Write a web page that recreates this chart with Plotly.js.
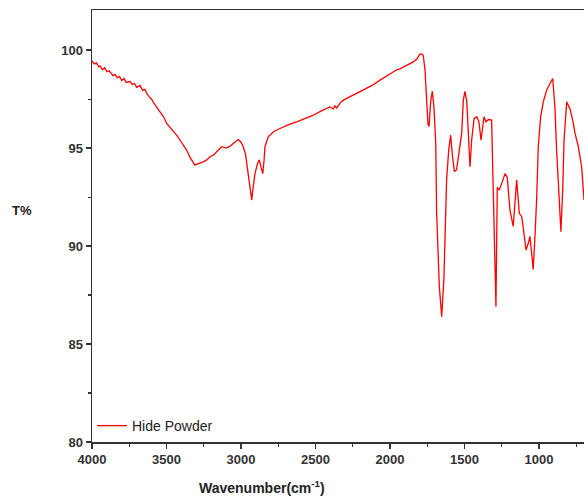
<!DOCTYPE html>
<html>
<head>
<meta charset="utf-8">
<script src="https://cdn.plot.ly/plotly-3.0.1.min.js"></script>
<style>html,body{margin:0;padding:0;background:#fff;}#chart{width:584px;height:501px;}</style>
</head>
<body>
<div id="chart"></div>
<script>
var seriesName = "Hide Powder";
var wavenumber = [4000,3985,3970,3955,3946,3930,3915,3900,3885,3870,3859,3845,3830,3815,3800,3785,3770,3745,3730,3715,3700,3678,3660,3645,3633,3615,3600,3585,3566,3545,3520,3499,3470,3432,3400,3365,3340,3309,3290,3270,3253,3230,3210,3186,3160,3130,3100,3074,3050,3030,3018,3000,2985,2970,2962,2945,2935,2928,2920,2906,2890,2877,2865,2854,2845,2839,2817,2780,2738,2680,2626,2570,2515,2460,2403,2380,2370,2358,2345,2330,2313,2250,2179,2120,2067,2010,1955,1933,1880,1844,1820,1799,1785,1777,1765,1754,1745,1738,1727,1716,1705,1693,1687,1669,1653,1638,1626,1620,1606,1593,1582,1568,1553,1535,1519,1508,1497,1485,1474,1463,1452,1436,1418,1403,1389,1378,1369,1356,1340,1318,1311,1300,1289,1280,1267,1250,1228,1213,1195,1173,1161,1150,1132,1116,1101,1087,1072,1061,1045,1039,1027,1016,1005,989,971,949,926,908,893,882,864,853,841,832,814,792,774,758,736,714,698];
var transmittance = [99.45,99.3,99.35,99.15,99.2,99.0,99.1,98.9,98.95,98.8,98.7,98.75,98.6,98.65,98.45,98.55,98.35,98.4,98.25,98.3,98.1,98.2,97.95,98.0,97.8,97.6,97.5,97.3,97.1,96.9,96.6,96.26,96.0,95.66,95.3,94.9,94.5,94.13,94.2,94.25,94.3,94.4,94.55,94.64,94.85,95.07,95.0,95.1,95.25,95.35,95.44,95.3,95.07,94.7,94.2,93.4,92.8,92.35,92.9,93.7,94.2,94.4,94.0,93.7,94.4,95.07,95.58,95.85,96.0,96.2,96.34,96.5,96.68,96.9,97.1,97.0,97.15,97.05,97.2,97.35,97.45,97.7,97.96,98.2,98.47,98.75,99.0,99.05,99.25,99.4,99.55,99.8,99.8,99.74,98.98,97.1,96.2,96.1,97.4,97.9,97.1,95.24,91.7,87.93,86.4,88.4,91.3,93.4,94.9,95.66,94.7,93.8,93.9,94.9,95.75,97.45,97.9,97.4,95.58,94.05,95.4,96.5,96.6,96.34,95.4,96.26,96.6,96.34,96.46,96.43,94.2,89.45,86.9,93.0,92.86,93.2,93.7,93.5,91.84,91.0,92.35,93.37,91.67,91.5,90.65,89.8,90.14,90.5,89.3,88.8,90.5,92.35,95.07,96.6,97.36,97.96,98.3,98.55,97.1,94.9,92.35,90.73,92.86,95.4,97.36,97.0,96.43,95.75,95.07,94.05,92.35];
var xTickVals = [4000,3500,3000,2500,2000,1500,1000];
var yTickVals = [80,85,90,95,100];

var tickFont = {family: "Liberation Sans, Arial, sans-serif", size: 13, color: "#333333", weight: "bold"};

var trace = {
  x: wavenumber, y: transmittance, type: "scatter", mode: "lines",
  name: seriesName, line: {color: "#ff0000", width: 1.3}
};

var layout = {
  width: 584, height: 501,
  margin: {l: 92, r: 0, t: 10, b: 59},
  paper_bgcolor: "#ffffff", plot_bgcolor: "#ffffff",
  showlegend: true,
  legend: {x: 0.0, y: 0.0, xanchor: "left", yanchor: "bottom", bgcolor: "rgba(0,0,0,0)",
           font: {family: "Liberation Sans, Arial, sans-serif", size: 14, color: "#222222"}},
  xaxis: {
    range: [4000, 698], autorange: false,
    tickvals: xTickVals, ticks: "outside", ticklen: 5, tickwidth: 1.5, tickcolor: "#333",
    showline: true, linecolor: "#333", linewidth: 1.5, mirror: true,
    showgrid: false, zeroline: false, tickfont: tickFont,
    minor: {dtick: 250, tick0: 0, ticks: "outside", ticklen: 3, tickwidth: 1.2, tickcolor: "#333", showgrid: false}
  },
  yaxis: {
    range: [80, 102.05], autorange: false,
    tickvals: yTickVals, ticks: "outside", ticklen: 5, tickwidth: 1.5, tickcolor: "#333",
    showline: true, linecolor: "#333", linewidth: 1.5,
    showgrid: false, zeroline: false, tickfont: tickFont,
    minor: {dtick: 2.5, tick0: 0, ticks: "outside", ticklen: 3, tickwidth: 1.2, tickcolor: "#333", showgrid: false}
  },
  annotations: [
    {text: "T%", xref: "paper", yref: "paper", x: -0.142, y: 0.535, xanchor: "center", yanchor: "middle",
     showarrow: false, font: {family: "Liberation Sans, Arial, sans-serif", size: 13, color: "#222", weight: "bold"}},
    {text: "Wavenumber(cm<sup>-1</sup>)", xref: "paper", yref: "paper", x: 0.345, y: -0.105, xanchor: "center", yanchor: "middle",
     showarrow: false, font: {family: "Liberation Sans, Arial, sans-serif", size: 14, color: "#222", weight: "bold"}}
  ]
};

Plotly.newPlot("chart", [trace], layout, {displayModeBar: false, staticPlot: true});
</script>
</body>
</html>
